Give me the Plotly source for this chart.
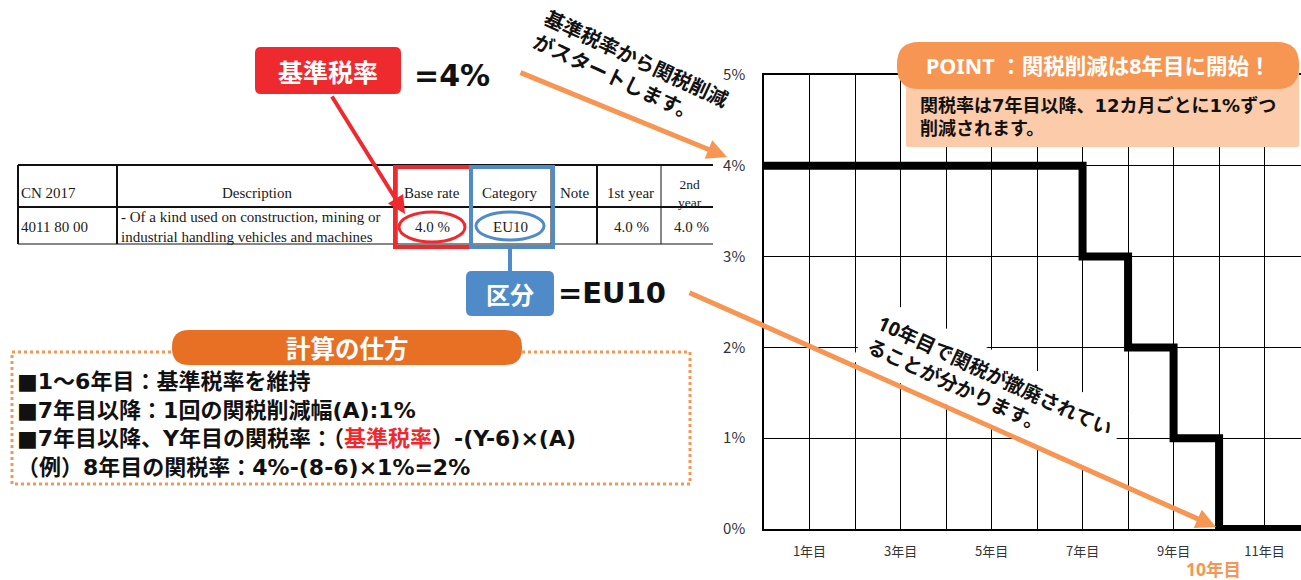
import plotly.graph_objects as go

# ---------------- data ----------------
step_years = [0, 7, 8, 9, 10, 11.8]
step_rates = [4, 3, 2, 1, 0, 0]
x_tick_vals = [1, 3, 5, 7, 9, 11]
x_tick_text = ["1年目", "3年目", "5年目", "7年目", "9年目", "11年目"]
y_tick_vals = [0, 1, 2, 3, 4, 5]
y_tick_text = ["0%", "1%", "2%", "3%", "4%", "5%"]

table_headers = ["CN 2017", "Description", "Base rate", "Category", "Note", "1st year", "2nd<br>year"]
table_row = ["4011 80 00",
             "- Of a kind used on construction, mining or<br>industrial handling vehicles and machines",
             "4.0 %", "EU10", "", "4.0 %", "4.0 %"]

calc_lines = [
    "■1～6年目：基準税率を維持",
    "■7年目以降：1回の関税削減幅(A):1%",
    "■7年目以降、Y年目の関税率：（<span style='color:#EE2A2F'>基準税率</span>）-(Y-6)×(A)",
    "（例）8年目の関税率：4%-(8-6)×1%=2%",
]

# ---------------- geometry helpers (pixel -> paper) ----------------
L, R, T, B = 764, 1301, 75, 529
W, H = R - L, B - T


def px(x):
    return (x - L) / W


def py(y):
    return (B - y) / H


JP = "Noto Sans, Noto Sans CJK JP"
JPWIDE = "DejaVu Sans, Noto Sans CJK JP"
JPONLY = "Noto Sans CJK JP"
SERIF = "Liberation Serif"
RED = "#EE2A2F"
BLUE = "#4F8BC9"
ORANGE = "#F79552"
DARKORANGE = "#E87025"
PEACH = "#FBCBAA"

shapes = []
annotations = []


def rrect(x0, y0, x1, y1, r, fill):
    def p(x, y):
        return f"{px(x):.5f},{py(y):.5f}"
    path = (f"M {p(x0 + r, y0)} L {p(x1 - r, y0)} Q {p(x1, y0)} {p(x1, y0 + r)} "
            f"L {p(x1, y1 - r)} Q {p(x1, y1)} {p(x1 - r, y1)} "
            f"L {p(x0 + r, y1)} Q {p(x0, y1)} {p(x0, y1 - r)} "
            f"L {p(x0, y0 + r)} Q {p(x0, y0)} {p(x0 + r, y0)} Z")
    shapes.append(dict(type="path", xref="paper", yref="paper", path=path,
                       fillcolor=fill, line=dict(width=0), layer="above"))


def line(x0, y0, x1, y1, color="#111", width=1):
    shapes.append(dict(type="line", xref="paper", yref="paper",
                       x0=px(x0), y0=py(y0), x1=px(x1), y1=py(y1),
                       line=dict(color=color, width=width), layer="above"))


def rect(x0, y0, x1, y1, color, width, dash="solid"):
    shapes.append(dict(type="rect", xref="paper", yref="paper",
                       x0=px(x0), y0=py(y0), x1=px(x1), y1=py(y1),
                       line=dict(color=color, width=width, dash=dash), layer="above"))


def ellipse(cx, cy, w, h, color, width):
    shapes.append(dict(type="circle", xref="paper", yref="paper",
                       x0=px(cx - w / 2), y0=py(cy - h / 2), x1=px(cx + w / 2), y1=py(cy + h / 2),
                       line=dict(color=color, width=width), layer="above"))


def text(x, y, t, size, color="#111", family=JP, xanchor="center", angle=0, align="center",
         bg=None, pad=1):
    a = dict(xref="paper", yref="paper", x=px(x), y=py(y), text=t, showarrow=False,
             xanchor=xanchor, yanchor="middle", textangle=angle, align=align,
             font=dict(family=family, size=size, color=color), borderpad=pad)
    if bg:
        a["bgcolor"] = bg
    annotations.append(a)


def arrow(tx, ty, hx, hy, color, width, size=1.0):
    annotations.append(dict(xref="paper", yref="paper", x=px(hx), y=py(hy),
                            ax=tx - hx, ay=ty - hy, axref="pixel", ayref="pixel",
                            text="", showarrow=True, arrowhead=2, arrowsize=size,
                            arrowwidth=width, arrowcolor=color, standoff=0))


# ---------------- table ----------------
col_x = [18, 117, 397, 471, 551, 597, 661, 713]
line(18, 165, 713, 165, width=2)
line(18, 207, 713, 207, width=2)
line(18, 244, 713, 244, width=1)
for i, cx in enumerate(col_x[:-1]):
    line(cx, 165, cx, 244, width=2 if i in (0, 1, 5) else 1)

hdr_pos = [(19, "left"), (257, "center"), (432, "center"), (509, "center"),
           (575, "center"), (630, "center"), (690, "center")]
for (x, anc), t in zip(hdr_pos, table_headers):
    two = "<br>" in t
    text(x, 193, t, 13.5 if two else 15, color="#1a1a1a", family=SERIF, xanchor=anc)
row_pos = [(19, "left"), (119, "left"), (432, "center"), (510, "center"),
           (575, "center"), (631, "center"), (691, "center")]
for (x, anc), t in zip(row_pos, table_row):
    if t:
        text(x, 227, t, 15, color="#1a1a1a", family=SERIF, xanchor=anc, align="left")

rect(395, 167, 471, 247, RED, 4)
rect(471, 167, 553, 247, BLUE, 4)
ellipse(432, 227, 66, 30, RED, 3)
ellipse(510, 226, 68, 28, BLUE, 3)

# ---------------- callouts ----------------
rrect(255, 47, 401, 94, 6, RED)
text(328, 71, "<b>基準税率</b>", 25, color="white", family=JPONLY)
text(412, 75, "<b>=4%</b>", 30, xanchor="left", family=JPWIDE)
arrow(331, 95, 405, 214, RED, 4, 0.9)

line(510, 247, 510, 272, color=BLUE, width=4)
rrect(466, 271, 554, 316, 6, BLUE)
text(510, 293, "<b>区分</b>", 24, color="white", family=JPONLY)
text(556, 293, "<b>=EU10</b>", 29, xanchor="left", family=JPWIDE)

# ---------------- calculation box ----------------
rect(12, 352, 690, 484, ORANGE, 3, dash="dot")
rrect(172, 330, 522, 365, 17, DARKORANGE)
text(347, 347, "<b>計算の仕方</b>", 24.5, color="white", family=JPONLY)
text(15, 424, "<b>" + "<br>".join(calc_lines) + "</b>", 22, xanchor="left", align="left",
     family=JPWIDE)

# ---------------- POINT box ----------------
rrect(906, 70, 1299, 147, 2, PEACH)
rrect(897, 42, 1299, 89, 22, ORANGE)
text(1098, 66, "<b>POINT ：関税削減は8年目に開始！</b>", 21.5, color="white")
text(918, 117, "<b>関税率は7年目以降、12カ月ごとに1%ずつ<br>削減されます。</b>", 18,
     xanchor="left", align="left", family=JPWIDE)

# ---------------- rotated notes and arrows ----------------
text(631, 70, "<b>基準税率から関税削減<br>がスタートします。</b>", 20, angle=25, align="left")
arrow(519, 72, 727, 157, ORANGE, 5, 0.8)

text(990, 387, "<b>10年目で関税が撤廃されてい<br>ることが分かります。</b>", 19.5, angle=25,
     align="left", bg="white", pad=8)
arrow(688, 292, 1216, 527, ORANGE, 5, 0.8)

text(1213, 569, "<b>10年目</b>", 17.5, color=ORANGE, pad=0)

# ---------------- figure ----------------
fig = go.Figure()
fig.add_trace(go.Scatter(x=step_years, y=step_rates, mode="lines", line_shape="hv",
                         line=dict(color="black", width=8), cliponaxis=False,
                         hoverinfo="skip", showlegend=False))

fig.update_layout(
    width=1301, height=580,
    margin=dict(l=L, r=1301 - R, t=T, b=580 - B, pad=0),
    paper_bgcolor="white", plot_bgcolor="white",
    shapes=shapes, annotations=annotations,
    showlegend=False,
    xaxis=dict(range=[0, 11.8], tickvals=x_tick_vals, ticktext=x_tick_text,
               showgrid=True, gridcolor="black", gridwidth=1.3,
               minor=dict(dtick=1, tick0=0, showgrid=True, gridcolor="black", gridwidth=1.3),
               showline=True, mirror=True, linecolor="black", linewidth=1.5,
               ticks="outside", ticklen=10, tickcolor="rgba(0,0,0,0)",
               tickfont=dict(family=JPONLY, size=13, color="#333"), zeroline=False, fixedrange=True),
    yaxis=dict(range=[0, 5], tickvals=y_tick_vals, ticktext=y_tick_text,
               showgrid=True, gridcolor="black", gridwidth=1.3,
               showline=True, linecolor="black", linewidth=1.5,
               ticks="outside", ticklen=14, tickcolor="rgba(0,0,0,0)",
               tickfont=dict(family=JPONLY, size=15, color="#333"), zeroline=False, fixedrange=True),
)

fig.write_html("out.html", config={"displayModeBar": False},
               post_script="document.body.style.margin='0';")
